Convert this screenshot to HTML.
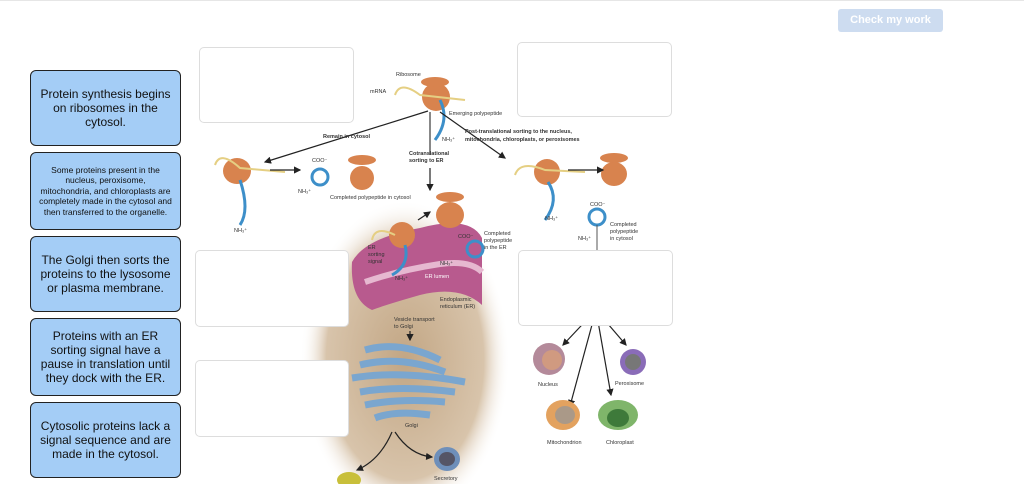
<!DOCTYPE html>
<html><head><meta charset="utf-8"><style>
html,body{margin:0;width:1024px;height:484px;overflow:hidden}
body{background:#fff;font-family:"Liberation Sans",sans-serif;position:relative}
.top{position:absolute;left:0;top:0;width:1024px;height:1px;background:#e6e6e6}
.btn{position:absolute;left:838px;top:9px;width:105px;height:23px;background:#cddcf0;border-radius:3px;color:#fff;font-size:11px;font-weight:bold;text-align:center;line-height:23px}
.card{position:absolute;left:30px;width:151px;background:#a4cdf6;border:1px solid #222;border-radius:6px;display:flex;align-items:center;justify-content:center;text-align:center;color:#111;font-size:12px;line-height:14px;box-sizing:border-box;padding:4px 8px}
.drop{position:absolute;border:1px solid #ddd;border-radius:5px;background:#fff;box-sizing:border-box}
svg{position:absolute;left:0;top:0}
</style></head><body>
<div class="top"></div>
<svg width="1024" height="484" viewBox="0 0 1024 484" font-family="Liberation Sans,sans-serif">
<defs>
<radialGradient id="bg" cx="0.5" cy="0.5" r="0.5"><stop offset="0" stop-color="#c2a684"/><stop offset="0.75" stop-color="#d8c4ab"/><stop offset="1" stop-color="#fff" stop-opacity="0"/></radialGradient>
<marker id="ar" markerWidth="6" markerHeight="6" refX="5" refY="3" orient="auto"><path d="M0,0L6,3L0,6z" fill="#222"/></marker>
</defs>
<ellipse cx="405" cy="360" rx="105" ry="160" fill="url(#bg)"/>
<!-- ER -->
<path d="M352,262 Q365,238 420,228 Q470,215 482,238 L482,305 Q460,285 420,295 Q385,305 372,310 Q350,300 352,262z" fill="#b85a8e"/>
<path d="M365,282 Q400,270 440,264 Q470,260 482,272" stroke="#e6b8d0" stroke-width="6" fill="none"/>
<!-- Golgi -->
<g fill="none" stroke="#7aa6cf" stroke-width="7">
<path d="M365,350 Q400,340 440,360"/><path d="M360,365 Q400,355 445,372"/><path d="M352,378 Q400,370 465,382"/><path d="M360,392 Q400,385 455,392"/><path d="M365,405 Q400,398 445,402"/><path d="M375,418 Q395,410 430,415"/>
</g>
<ellipse cx="447" cy="459" rx="13" ry="12" fill="#6e8fba"/><ellipse cx="447" cy="459" rx="8" ry="7" fill="#556"/>
<ellipse cx="349" cy="480" rx="12" ry="8" fill="#c8bf3a"/>
<!-- ribosomes -->
<g fill="#d8834e">
<ellipse cx="436" cy="97" rx="14" ry="14"/><ellipse cx="435" cy="82" rx="14" ry="5"/>
<ellipse cx="237" cy="171" rx="14" ry="13"/><ellipse cx="362" cy="178" rx="12" ry="12"/><ellipse cx="362" cy="160" rx="14" ry="5"/>
<ellipse cx="450" cy="215" rx="14" ry="13"/><ellipse cx="450" cy="197" rx="14" ry="5"/>
<ellipse cx="402" cy="235" rx="13" ry="13"/>
<ellipse cx="547" cy="172" rx="13" ry="13"/><ellipse cx="614" cy="174" rx="13" ry="12"/><ellipse cx="614" cy="158" rx="14" ry="5"/>
</g>
<g fill="none" stroke="#e5cf83" stroke-width="2">
<path d="M395,95 Q400,80 420,95 L465,100"/><path d="M215,165 Q220,150 240,168 L285,172"/><path d="M515,175 Q520,160 545,170 L585,172"/><path d="M372,240 Q375,225 395,235"/>
</g>
<g fill="none" stroke="#3d8fc9" stroke-width="3">
<path d="M440,100 Q450,120 435,140"/><path d="M240,180 Q250,210 240,225"/><path d="M548,182 Q560,200 545,220"/><path d="M405,245 Q410,265 392,275"/>
<circle cx="320" cy="177" r="8"/><circle cx="597" cy="217" r="8"/><circle cx="475" cy="249" r="8"/>
</g>
<g stroke="#222" stroke-width="1.2" fill="none" marker-end="url(#ar)">
<line x1="428" y1="111" x2="265" y2="162"/><line x1="440" y1="112" x2="505" y2="158"/>
<line x1="270" y1="170" x2="300" y2="170"/><line x1="568" y1="170" x2="603" y2="170"/>
<line x1="430" y1="168" x2="430" y2="190"/><line x1="418" y1="220" x2="430" y2="212"/>
<line x1="410" y1="331" x2="410" y2="340"/>
<line x1="596" y1="310" x2="563" y2="345"/><line x1="596" y1="310" x2="626" y2="345"/><line x1="596" y1="310" x2="570" y2="406"/><line x1="596" y1="310" x2="611" y2="395"/>
<path d="M392,432 Q380,460 357,470"/><path d="M395,432 Q410,455 432,457"/>
</g>
<line x1="430" y1="112" x2="430" y2="155" stroke="#888" stroke-width="2"/>
<line x1="597" y1="225" x2="597" y2="250" stroke="#555"/>
<!-- organelles -->
<circle cx="549" cy="359" r="16" fill="#b48a9a"/><circle cx="552" cy="360" r="10" fill="#d09a80"/>
<circle cx="633" cy="362" r="13" fill="#8a6cb8"/><circle cx="633" cy="362" r="8" fill="#777"/>
<ellipse cx="563" cy="415" rx="17" ry="15" fill="#e3a25f"/><ellipse cx="565" cy="415" rx="10" ry="9" fill="#a98"/>
<ellipse cx="618" cy="415" rx="20" ry="15" fill="#7fb56a"/><ellipse cx="618" cy="418" rx="11" ry="9" fill="#3e7a3a"/>
<g font-size="5.5" fill="#333">
<text x="396" y="76">Ribosome</text><text x="370" y="93">mRNA</text><text x="449" y="115">Emerging polypeptide</text>
<text x="323" y="138" font-weight="bold">Remain in cytosol</text>
<text x="465" y="133" font-weight="bold">Post-translational sorting to the nucleus,</text>
<text x="465" y="141" font-weight="bold">mitochondria, chloroplasts, or peroxisomes</text>
<text x="409" y="155" font-weight="bold">Cotranslational</text><text x="409" y="162" font-weight="bold">sorting to ER</text>
<text x="442" y="141">NH₃⁺</text><text x="312" y="162">COO⁻</text><text x="298" y="193">NH₃⁺</text><text x="330" y="199">Completed polypeptide in cytosol</text>
<text x="234" y="232">NH₃⁺</text><text x="545" y="220">NH₃⁺</text><text x="590" y="206">COO⁻</text><text x="578" y="240">NH₃⁺</text>
<text x="610" y="226">Completed</text><text x="610" y="233">polypeptide</text><text x="610" y="240">in cytosol</text>
<text x="458" y="238">COO⁻</text><text x="484" y="235">Completed</text><text x="484" y="242">polypeptide</text><text x="484" y="249">in the ER</text>
<text x="368" y="249">ER</text><text x="368" y="256">sorting</text><text x="368" y="263">signal</text><text x="395" y="280">NH₃⁺</text><text x="425" y="278" fill="#fff">ER lumen</text><text x="440" y="265">NH₃⁺</text>
<text x="440" y="301">Endoplasmic</text><text x="440" y="308">reticulum (ER)</text>
<text x="394" y="321">Vesicle transport</text><text x="394" y="328">to Golgi</text>
<text x="405" y="427">Golgi</text><text x="434" y="480">Secretory</text>
<text x="538" y="386">Nucleus</text><text x="615" y="385">Peroxisome</text><text x="547" y="444">Mitochondrion</text><text x="606" y="444">Chloroplast</text>
</g>
</svg>
<div class="drop" style="left:199px;top:47px;width:155px;height:76px"></div>
<div class="drop" style="left:517px;top:42px;width:155px;height:75px"></div>
<div class="drop" style="left:195px;top:250px;width:154px;height:77px"></div>
<div class="drop" style="left:518px;top:250px;width:155px;height:76px"></div>
<div class="drop" style="left:195px;top:360px;width:154px;height:77px"></div>
<div class="btn">Check my work</div>
<div class="card" style="top:70px;height:76px">Protein synthesis begins on ribosomes in the cytosol.</div>
<div class="card" style="top:152px;height:78px;font-size:8.5px;line-height:10.5px">Some proteins present in the nucleus, peroxisome, mitochondria, and chloroplasts are completely made in the cytosol and then transferred to the organelle.</div>
<div class="card" style="top:236px;height:76px">The Golgi then sorts the proteins to the lysosome or plasma membrane.</div>
<div class="card" style="top:318px;height:78px">Proteins with an ER sorting signal have a pause in translation until they dock with the ER.</div>
<div class="card" style="top:402px;height:76px">Cytosolic proteins lack a signal sequence and are made in the cytosol.</div>
</body></html>
